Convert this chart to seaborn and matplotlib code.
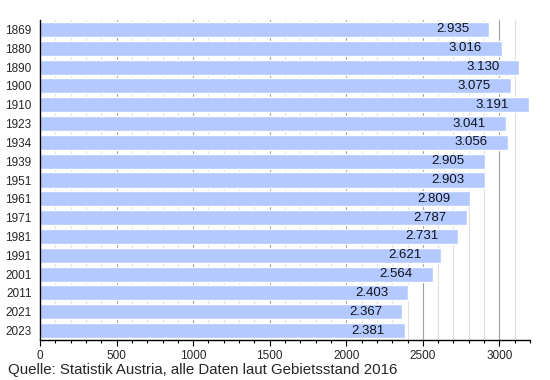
import matplotlib
matplotlib.use("Agg")
import matplotlib.pyplot as plt
import matplotlib.ticker as mticker
import seaborn as sns
import pandas as pd

# Daten
jahre = ["1869", "1880", "1890", "1900", "1910", "1923", "1934", "1939", "1951",
         "1961", "1971", "1981", "1991", "2001", "2011", "2021", "2023"]
einwohner = [2935, 3016, 3130, 3075, 3191, 3041, 3056, 2905, 2903,
             2809, 2787, 2731, 2621, 2564, 2403, 2367, 2381]
quelle = "Quelle: Statistik Austria, alle Daten laut Gebietsstand 2016"

df = pd.DataFrame({"jahr": jahre, "einwohner": einwohner})

sns.set_style("white")
plt.rcParams["font.family"] = ["Liberation Sans", "DejaVu Sans"]

fig = plt.figure(figsize=(5.5, 3.8), dpi=100)
ax = fig.add_axes([40 / 550, 1 - 340 / 380, 490 / 550, 320 / 380])

sns.barplot(data=df, x="einwohner", y="jahr", orient="h", color="#b3c9ff",
            saturation=1, width=0.8, ax=ax, zorder=2)

# Werte an den Balken
for i, v in enumerate(df["einwohner"]):
    txt = f"{v / 1000:.3f}"
    ax.annotate(txt, xy=(v, i), xytext=(-20, 0), textcoords="offset pixels",
                ha="right", va="center", fontsize=9.5, color="#10131c", zorder=3)

ax.set_xlim(0, 3200)
ax.set_ylim(16.5, -0.5)
ax.xaxis.set_major_locator(mticker.MultipleLocator(500))
ax.xaxis.set_minor_locator(mticker.MultipleLocator(100))
ax.grid(True, axis="x", which="major", color="#a0a0a0", linewidth=0.8, zorder=0)
ax.grid(True, axis="x", which="minor", color="#e0e0e0", linewidth=0.8, zorder=0)
ax.set_axisbelow(True)

for s in ["top", "right"]:
    ax.spines[s].set_visible(False)
for s in ["left", "bottom"]:
    ax.spines[s].set_color("black")
    ax.spines[s].set_linewidth(1.0)

ax.tick_params(axis="x", which="major", direction="out", length=4, width=0.8,
               color="black", labelsize=8.5, pad=3, bottom=True)
ax.tick_params(axis="x", which="minor", direction="out", length=2.5, width=0.8,
               color="black", bottom=True)
ax.tick_params(axis="y", length=0, labelsize=8.5, pad=6)
ax.set_xlabel("")
ax.set_ylabel("")

fig.text(8 / 550, 1 - 370 / 380, quelle, fontsize=10.8, ha="left", va="center")

fig.savefig("out.png", dpi=100)
